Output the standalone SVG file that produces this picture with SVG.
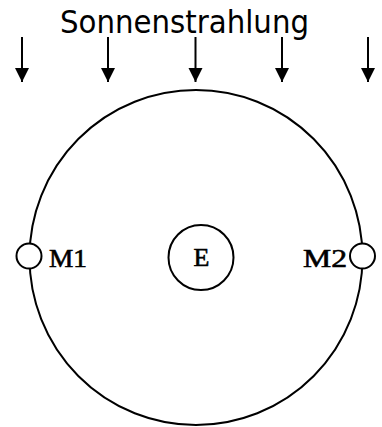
<svg xmlns="http://www.w3.org/2000/svg" width="382" height="427" viewBox="0 0 382 427">
<style>
.ln{fill:none;stroke:#000;stroke-width:2}
.sm{fill:#fff;stroke:#000;stroke-width:2}
.lbl{font-family:"Liberation Serif","Times New Roman",serif;font-size:26px;fill:#000;stroke:#000;stroke-width:0.6}
.ttl{font-family:"DejaVu Sans","Noto Sans",sans-serif;font-size:32px;fill:#000}
.ar{stroke:#000;stroke-width:2;fill:none}
</style>
<defs>
<marker id="ah" markerUnits="userSpaceOnUse" markerWidth="15" markerHeight="15" refX="14" refY="7.5" orient="auto" viewBox="0 0 15 15">
<path d="M0,0.5 L14,7.5 L0,14.5 Z" fill="#000"/>
</marker>
</defs>
<rect width="382" height="427" fill="#fff"/>
<g id="title"><text class="ttl" x="60" y="33" textLength="249" lengthAdjust="spacingAndGlyphs">Sonnenstrahlung</text></g>
<g id="connectors">
<line class="ar" x1="22" y1="37" x2="22" y2="82" marker-end="url(#ah)"/>
<line class="ar" x1="108" y1="37" x2="108" y2="82" marker-end="url(#ah)"/>
<line class="ar" x1="195.5" y1="37" x2="195.5" y2="82" marker-end="url(#ah)"/>
<line class="ar" x1="282" y1="37" x2="282" y2="82" marker-end="url(#ah)"/>
<line class="ar" x1="368" y1="37" x2="368" y2="82" marker-end="url(#ah)"/>
</g>
<g id="orbit"><ellipse class="ln" cx="196" cy="257.5" rx="166.5" ry="167.5"/></g>
<g id="E">
<circle class="ln" cx="201" cy="257.5" r="32.5"/>
<text class="lbl" x="201.5" y="266" text-anchor="middle">E</text>
</g>
<g id="M1">
<circle class="sm" cx="29" cy="256" r="12.5"/>
<text class="lbl" x="49" y="266.5" textLength="38" lengthAdjust="spacingAndGlyphs">M1</text>
</g>
<g id="M2">
<circle class="sm" cx="362.5" cy="256" r="12.5"/>
<text class="lbl" x="303" y="266.5" textLength="44" lengthAdjust="spacingAndGlyphs">M2</text>
</g>
</svg>
